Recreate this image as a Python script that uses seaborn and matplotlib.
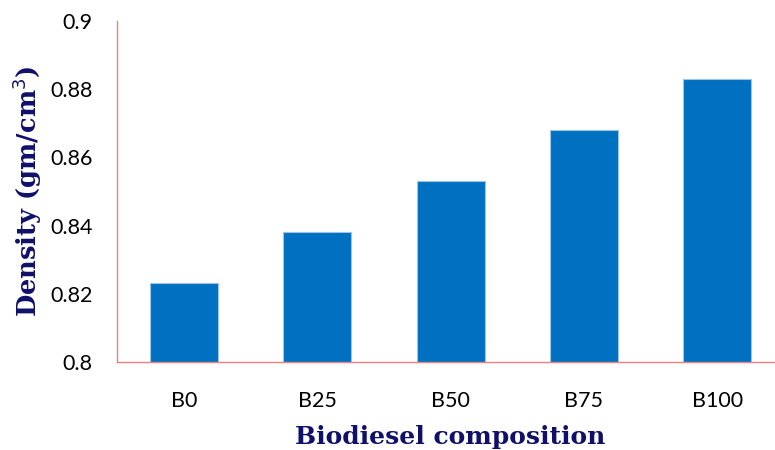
import matplotlib
matplotlib.use('Agg')
import matplotlib.pyplot as plt
import seaborn as sns
import pandas as pd

compositions = ['B0', 'B25', 'B50', 'B75', 'B100']
density = [0.823, 0.838, 0.853, 0.868, 0.883]

sns.set_style('white')
plt.rcParams['font.family'] = ['Lato', 'DejaVu Sans']

df = pd.DataFrame({'composition': compositions, 'density': density})

fig = plt.figure(figsize=(7.75, 4.5), dpi=100)
# the plot area runs slightly past the right edge of the figure
ax = fig.add_axes([0.1515, 0.196, 0.86, 0.757])

sns.barplot(data=df, x='composition', y='density', color='#0070C0',
            width=0.51, edgecolor='#9DC3E6', linewidth=0.8, saturation=1, ax=ax)

ax.set_ylim(0.8, 0.9)
ax.set_yticks([0.8, 0.82, 0.84, 0.86, 0.88, 0.9])
ax.set_yticklabels(['0.8', '0.82', '0.84', '0.86', '0.88', '0.9'])
ax.set_xlim(-0.5, 4.5)
ax.tick_params(axis='both', length=0, labelsize=15.5, colors='black')
ax.tick_params(axis='x', pad=21)
ax.tick_params(axis='y', pad=18)

for side in ['top', 'right']:
    ax.spines[side].set_visible(False)
for side in ['left', 'bottom']:
    ax.spines[side].set_color('#F07F7F')
    ax.spines[side].set_linewidth(1.0)

navy = '#10106B'
ax.set_xlabel('Biodiesel composition', fontsize=18, fontweight='bold',
              family='DejaVu Serif', color=navy, labelpad=10)
ax.set_ylabel('Density (gm/cm$^3$)', fontsize=18.5, fontweight='bold',
              family='DejaVu Serif', color=navy, labelpad=4)

fig.savefig('out.png', dpi=100)
